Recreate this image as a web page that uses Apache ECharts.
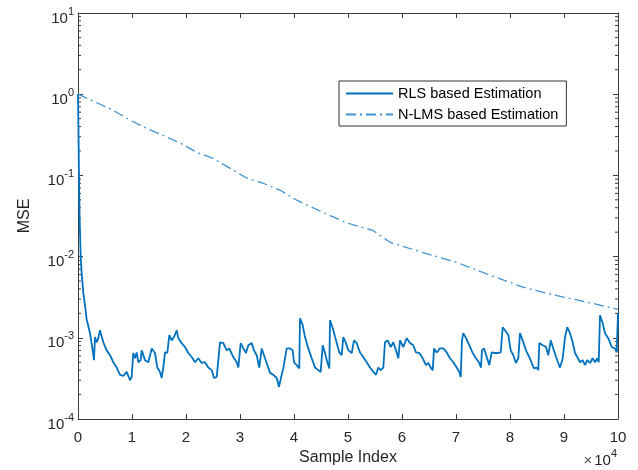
<!DOCTYPE html>
<html>
<head>
<meta charset="utf-8">
<script src="https://cdn.jsdelivr.net/npm/echarts@6/dist/echarts.min.js"></script>
<style>html,body{margin:0;padding:0;background:#fff}#c{width:638px;height:470px}</style>
</head>
<body>
<div id="c"></div>
<script>
// ---- data ----
const seriesNames = ['RLS based Estimation', 'N-LMS based Estimation'];
const xTickLabels = ['0','1','2','3','4','5','6','7','8','9','10'];
const yDecades = [1e-4, 1e-3, 1e-2, 1e-1, 1e0, 1e1];
const minorMultipliers = [2,3,4,5,6,7,8,9];

const rlsIndex = [0,100,200,300,500,700,1000,1300,1600,2220,2720,2960,3150,3460,3760,4070,4690,5310,5930,6540,7170,7780,8390,9020,9630,9940,10240,10560,10870,11170,11610,11800,12410,13020,13650,14260,14690,15190,15500,15800,16110,16540,16910,17350,17780,18280,18570,19200,19810,20430,21060,21670,22280,22910,23520,24130,24760,25190,25690,26300,26910,27540,28020,28760,29390,29690,30130,30610,31110,31540,32170,32590,33090,33570,34020,34630,35240,35560,36170,36800,37220,37720,38020,38330,38650,39260,39760,40000,40500,40980,41110,41610,42040,42650,43280,43890,44500,44940,45320,45740,46170,46540,46670,47170,47780,48390,48830,49130,49630,50060,50690,51110,51610,52220,52830,53460,54070,54690,55190,55610,56060,56540,56850,57350,57910,58390,58890,59320,59630,60240,60870,61480,62090,62590,63200,63830,64440,64870,65310,65690,65930,66430,67040,67650,68280,68890,69500,70130,70610,70870,71110,71350,71850,72460,73090,73700,74310,74630,74810,75190,75690,76170,76610,77220,77830,78280,78650,79070,79690,80130,80610,81110,81540,81850,82350,82960,83570,84020,84440,84940,85240,85430,86060,86670,87090,87540,88020,88520,88940,89260,89760,90190,90610,91110,91610,92040,92460,92960,93460,93890,94310,94810,95310,95740,96170,96430,96670,97170,97590,98200,98830,99440,99760,99900,100000];
const rlsMSE = [1.0,0.3,0.08,0.03,0.01,6.0e-3,3.5e-3,2.5e-3,1.7e-3,1.14e-3,7.0e-4,5.3e-4,1.02e-3,8.8e-4,9.9e-4,1.24e-3,8.8e-4,7.0e-4,6.1e-4,5.0e-4,4.3e-4,3.5e-4,3.4e-4,3.8e-4,3.0e-4,3.3e-4,6.5e-4,5.6e-4,6.6e-4,5.0e-4,5.3e-4,7.0e-4,5.3e-4,5.0e-4,7.4e-4,6.5e-4,4.3e-4,3.8e-4,3.2e-4,4.3e-4,6.6e-4,6.5e-4,1.08e-3,9.3e-4,1.02e-3,1.24e-3,9.9e-4,8.6e-4,7.7e-4,6.5e-4,5.8e-4,5.0e-4,5.6e-4,4.9e-4,5.0e-4,4.3e-4,4.0e-4,3.2e-4,3.3e-4,8.8e-4,8.6e-4,7.0e-4,7.4e-4,5.8e-4,5.0e-4,4.3e-4,8.6e-4,7.4e-4,6.5e-4,8.1e-4,8.6e-4,7.0e-4,6.1e-4,4.3e-4,7.4e-4,5.6e-4,4.3e-4,3.7e-4,3.5e-4,3.2e-4,2.5e-4,3.5e-4,4.2e-4,4.0e-4,7.4e-4,7.4e-4,7.0e-4,5.0e-4,4.6e-4,4.2e-4,1.74e-3,1.43e-3,1.02e-3,7.4e-4,5.6e-4,4.3e-4,4.0e-4,3.8e-4,8.1e-4,6.5e-4,5.0e-4,4.2e-4,1.65e-3,1.31e-3,9.3e-4,6.6e-4,6.1e-4,1.02e-3,8.6e-4,7.0e-4,6.5e-4,9.3e-4,8.6e-4,6.6e-4,5.8e-4,5.0e-4,4.3e-4,3.8e-4,3.5e-4,4.3e-4,4.0e-4,4.3e-4,8.8e-4,9.3e-4,7.7e-4,8.8e-4,7.0e-4,5.6e-4,9.3e-4,7.7e-4,9.9e-4,8.6e-4,8.1e-4,6.6e-4,6.5e-4,5.6e-4,4.6e-4,4.9e-4,4.3e-4,4.0e-4,7.4e-4,6.6e-4,7.4e-4,7.4e-4,6.6e-4,5.6e-4,5.0e-4,4.3e-4,3.8e-4,3.3e-4,9.3e-4,1.14e-3,9.9e-4,8.1e-4,6.5e-4,5.6e-4,4.9e-4,4.3e-4,7.0e-4,7.4e-4,5.8e-4,4.6e-4,6.6e-4,6.5e-4,6.5e-4,6.6e-4,1.35e-3,1.24e-3,1.08e-3,7.0e-4,6.1e-4,4.9e-4,5.6e-4,1.14e-3,9.3e-4,7.0e-4,5.8e-4,4.9e-4,4.2e-4,4.3e-4,4.0e-4,8.6e-4,8.1e-4,7.7e-4,6.1e-4,9.3e-4,7.4e-4,5.8e-4,4.9e-4,4.3e-4,5.6e-4,1.02e-3,1.35e-3,1.14e-3,8.8e-4,6.5e-4,5.8e-4,5.0e-4,5.3e-4,4.6e-4,5.3e-4,4.9e-4,5.6e-4,5.0e-4,5.6e-4,5.0e-4,1.90e-3,1.51e-3,1.14e-3,9.9e-4,7.7e-4,7.4e-4,6.6e-4,6.8e-4,2.0e-3];

const nlmsIndex = [0,6500,9600,12700,15800,18900,22000,25000,28100,31200,34300,37400,40500,43500,46700,49800,54600,57800,63900,70100,76300,82400,88700,94800,100000];
const nlmsMSE = [1.0,0.635,0.48,0.38,0.31,0.25,0.193,0.162,0.123,0.093,0.080,0.066,0.0495,0.040,0.032,0.026,0.021,0.015,0.0112,0.0085,0.0059,0.0042,0.0033,0.0027,0.00224];

// ---- build ----
const pair = (xs, ys) => xs.map((x, i) => [x, ys[i]]);
const minorTickData = [];
yDecades.slice(0, -1).forEach(d => minorMultipliers.forEach(m => minorTickData.push([0, m * d])));

const FONT = '"Liberation Sans", Arial, Helvetica, sans-serif';
const TXT = '#262626';
const AX = '#3c3c3c';
const XMIN = 0, XMAX = 100000, XINT = 10000;

const chart = echarts.init(document.getElementById('c'), null, {renderer: 'canvas'});
const supLabel = v => {
  const e = Math.round(Math.log10(v));
  return '{b|10}{s|' + e + '}';
};
const yRich = {
  b: {fontSize: 15, fontFamily: FONT, color: TXT, lineHeight: 20, verticalAlign: 'bottom'},
  s: {fontSize: 11, fontFamily: FONT, color: TXT, lineHeight: 12, verticalAlign: 'top'}
};

chart.setOption({
  animation: false,
  backgroundColor: '#fff',
  grid: {left: 78, right: 20, top: 13, bottom: 51, containLabel: false, outerBoundsMode: 'none'},
  legend: {
    data: seriesNames,
    orient: 'vertical',
    left: 339, top: 81,
    padding: [5, 8, 4, 6],
    itemWidth: 47, itemHeight: 14, itemGap: 6,
    backgroundColor: '#fff',
    borderColor: '#333', borderWidth: 1, borderRadius: 0,
    itemStyle: {opacity: 0, color: 'transparent', borderWidth: 0},
    textStyle: {fontFamily: FONT, fontSize: 14.5, color: '#000'}
  },
  xAxis: [{
    type: 'value', min: XMIN, max: XMAX, interval: XINT,
    position: 'bottom',
    name: 'Sample Index', nameLocation: 'middle', nameGap: 31,
    nameTextStyle: {fontFamily: FONT, fontSize: 16, color: TXT},
    axisLine: {show: true, onZero: false, lineStyle: {color: AX, width: 1}},
    axisTick: {show: true, inside: true, length: 5, lineStyle: {color: AX}},
    axisLabel: {show: true, margin: 11, fontFamily: FONT, fontSize: 15, color: TXT,
      formatter: v => xTickLabels[Math.round(v / XINT)]},
    splitLine: {show: false}
  }, {
    type: 'value', min: XMIN, max: XMAX, interval: XINT,
    position: 'top',
    axisLine: {show: true, onZero: false, lineStyle: {color: AX, width: 1}},
    axisTick: {show: true, inside: true, length: 5, lineStyle: {color: AX}},
    axisLabel: {show: false},
    splitLine: {show: false}
  }],
  yAxis: [{
    type: 'log', logBase: 10, min: 1e-4, max: 10,
    position: 'left',
    name: 'MSE', nameLocation: 'middle', nameGap: 45, nameRotate: 90,
    nameTextStyle: {fontFamily: FONT, fontSize: 16, color: TXT},
    axisLine: {show: true, onZero: false, lineStyle: {color: AX, width: 1}},
    axisTick: {show: true, inside: true, length: 5, lineStyle: {color: AX}},
    axisLabel: {show: true, margin: 4, formatter: supLabel, rich: yRich, padding: [6, 0, 0, 0]},
    splitLine: {show: false}
  }, {
    type: 'log', logBase: 10, min: 1e-4, max: 10,
    position: 'right',
    axisLine: {show: true, onZero: false, lineStyle: {color: AX, width: 1}},
    axisTick: {show: true, inside: true, length: 5, lineStyle: {color: AX}},
    axisLabel: {show: false},
    splitLine: {show: false}
  }],
  series: [{
    name: seriesNames[0], type: 'line', data: pair(rlsIndex, rlsMSE),
    xAxisIndex: 0, yAxisIndex: 0,
    symbol: 'none', showSymbol: false, smooth: false,
    lineStyle: {color: '#0072BD', width: 1.8},
    itemStyle: {color: '#0072BD'},
    z: 3
  }, {
    name: seriesNames[1], type: 'line', data: pair(nlmsIndex, nlmsMSE),
    xAxisIndex: 0, yAxisIndex: 0,
    symbol: 'none', showSymbol: false, smooth: false,
    lineStyle: {color: '#3f94d2', width: 1.3, type: [10, 4, 2, 4]},
    itemStyle: {color: '#3f94d2'},
    z: 2
  }, {
    name: 'minorTicks', type: 'custom', data: minorTickData,
    xAxisIndex: 0, yAxisIndex: 0, silent: true, clip: false,
    encode: {x: 0, y: 1},
    renderItem: (params, api) => {
      const v = api.value(1);
      const l = api.coord([XMIN, v]);
      const r = api.coord([XMAX, v]);
      const st = {stroke: AX, lineWidth: 1};
      return {type: 'group', children: [
        {type: 'line', shape: {x1: l[0], y1: l[1], x2: l[0] + 3, y2: l[1]}, style: st},
        {type: 'line', shape: {x1: r[0] - 3, y1: r[1], x2: r[0], y2: r[1]}, style: st}
      ]};
    },
    z: 1
  }],
  graphic: [{
    type: 'text', right: 21, top: 448,
    style: {
      text: '{x|×}{b|10}{s|4}',
      rich: {
        x: {fontSize: 15, fontFamily: FONT, fill: '#555', lineHeight: 20, verticalAlign: 'bottom', padding: [0, 2, 0, 0]},
        b: {fontSize: 15, fontFamily: FONT, fill: TXT, lineHeight: 20, verticalAlign: 'bottom'},
        s: {fontSize: 11, fontFamily: FONT, fill: TXT, lineHeight: 12, verticalAlign: 'top'}
      }
    }
  }]
});
</script>
</body>
</html>
